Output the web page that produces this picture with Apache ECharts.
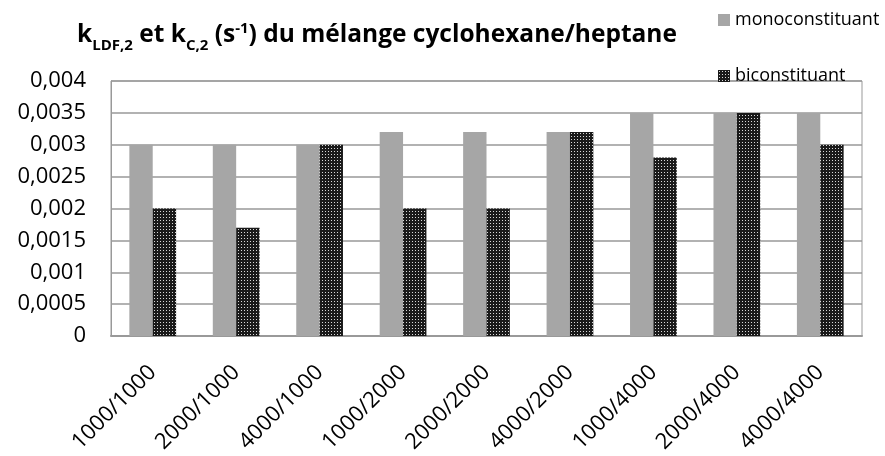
<!DOCTYPE html>
<html>
<head>
<meta charset="utf-8">
<script src="https://cdn.jsdelivr.net/npm/echarts@6/dist/echarts.min.js"></script>
<style>
  html, body { margin: 0; padding: 0; background: #fff; }
  #chart { width: 885px; height: 456px; }
</style>
</head>
<body>
<div id="chart"></div>
<script>
// Couples de débits (cyclohexane/heptane)
const categories = ['1000/1000', '2000/1000', '4000/1000', '1000/2000', '2000/2000', '4000/2000', '1000/4000', '2000/4000', '4000/4000'];
// Constantes cinétiques (s-1)
const monoconstituant = [0.003, 0.003, 0.003, 0.0032, 0.0032, 0.0032, 0.0035, 0.0035, 0.0035];
const biconstituant = [0.002, 0.0017, 0.003, 0.002, 0.002, 0.0032, 0.0028, 0.0035, 0.003];
const seriesNames = ['monoconstituant', 'biconstituant'];

// Motif pointillé (fond sombre, points clairs) pour la série biconstituant
function dotPattern() {
  const c = document.createElement('canvas');
  c.width = 3; c.height = 3;
  const ctx = c.getContext('2d');
  ctx.fillStyle = '#1a1a1a';
  ctx.fillRect(0, 0, 3, 3);
  ctx.fillStyle = '#d8d8d8';
  ctx.fillRect(1, 1, 1, 1);
  return { image: c, repeat: 'repeat' };
}

const FONT = '"Open Sans", Lato, sans-serif';
const chart = echarts.init(document.getElementById('chart'), null, { renderer: 'canvas' });

chart.setOption({
  animation: false,
  backgroundColor: '#fff',
  title: {
    text: '{b|k}{sub|LDF,2}{b| et k}{sub|C,2}{b| (s}{sup|-1}{b|) du mélange cyclohexane/heptane}',
    left: 372,
    top: 12,
    textAlign: 'center',
    textStyle: {
      rich: {
        b: { fontFamily: FONT, fontWeight: 'bold', fontSize: 24.5, color: '#000', lineHeight: 36, verticalAlign: 'middle' },
        sub: { fontFamily: FONT, fontWeight: 'bold', fontSize: 15, color: '#000', lineHeight: 15, verticalAlign: 'bottom' },
        sup: { fontFamily: FONT, fontWeight: 'bold', fontSize: 15, color: '#000', lineHeight: 15, verticalAlign: 'top', padding: [4, 0, 0, 0] }
      }
    }
  },
  legend: {
    orient: 'vertical',
    left: 713,
    top: 6,
    itemGap: 38,
    itemWidth: 12,
    itemHeight: 12,
    icon: 'rect',
    textStyle: { fontFamily: FONT, fontSize: 18, color: '#000', padding: [0, 0, 0, 0] },
    data: seriesNames
  },
  grid: {
    left: 111,
    right: 23,
    top: 81,
    bottom: 120,
    show: true,
    borderColor: '#999',
    borderWidth: 1
  },
  xAxis: {
    type: 'category',
    data: categories,
    axisTick: { show: false },
    axisLine: { lineStyle: { color: '#999', width: 2 } },
    axisLabel: {
      rotate: 45,
      margin: 33,
      fontFamily: FONT,
      fontSize: 22,
      color: '#000',
      interval: 0
    }
  },
  yAxis: {
    type: 'value',
    min: 0,
    max: 0.004,
    interval: 0.0005,
    axisLine: { show: true, lineStyle: { color: '#999' } },
    axisTick: { show: false },
    splitLine: { lineStyle: { color: '#999', width: 1.5 } },
    axisLabel: {
      margin: 25,
      fontFamily: FONT,
      fontSize: 22,
      color: '#000',
      formatter: v => String(Math.round(v * 10000) / 10000).replace('.', ',')
    }
  },
  series: [
    {
      name: seriesNames[0],
      type: 'bar',
      data: monoconstituant,
      barWidth: '28%',
      barGap: '0%',
      itemStyle: { color: '#a6a6a6' }
    },
    {
      name: seriesNames[1],
      type: 'bar',
      data: biconstituant,
      barWidth: '28%',
      itemStyle: { color: dotPattern() }
    }
  ]
});
</script>
</body>
</html>
